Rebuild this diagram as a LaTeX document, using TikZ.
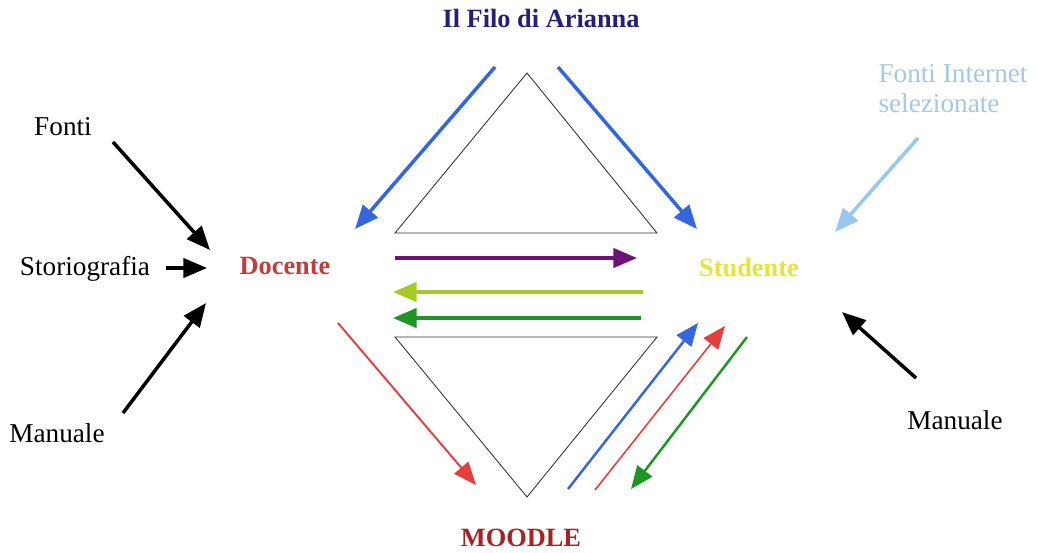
\documentclass[tikz,border=0pt]{standalone}
\usepackage{fontspec}
\setmainfont{Liberation Serif}
\usepackage{xcolor}
\usetikzlibrary{arrows.meta}
\definecolor{fnavy}{RGB}{38,30,125}
\definecolor{fdoc}{RGB}{190,62,62}
\definecolor{fstud}{RGB}{228,230,55}
\definecolor{fmood}{RGB}{165,35,35}
\definecolor{fblue}{RGB}{52,102,222}
\definecolor{fpurple}{RGB}{110,18,122}
\definecolor{flime}{RGB}{165,202,40}
\definecolor{fgreen}{RGB}{30,150,35}
\definecolor{fred}{RGB}{228,62,62}
\definecolor{fsky}{RGB}{165,200,228}
\definecolor{fskyar}{RGB}{150,200,240}
\tikzset{
  src/.style  ={inner sep=1pt, align=left, font=\fontsize{15.5}{17}\selectfont},
  hub/.style  ={inner sep=1pt, font=\fontsize{15}{17}\selectfont\bfseries},
  ttl/.style  ={inner sep=1pt, font=\fontsize{15}{17}\selectfont\bfseries},
  ar/.style   ={-{Triangle[length=13.5pt,width=11pt]}, line width=2pt},
  arthin/.style={-{Triangle[length=13pt,width=10.5pt]}, line width=1.1pt},
  tri/.style  ={draw=black!80, line width=0.5pt}
}

\begin{document}
\begin{tikzpicture}[x=0.02cm, y=-0.02cm]
\useasboundingbox (0,0) rectangle (1038,552);
% labels
\node[ttl, text=fnavy] (filo) at (541,18) {Il Filo di Arianna};
\node[ttl, text=fmood] (moodle) at (521,538) {MOODLE};
\node[hub, text=fdoc] (doc) at (285,266) {Docente};
\node[hub, text=fstud] (stud) at (749,268) {Studente};
\node[src] (fonti) at (63,127) {Fonti};
\node[src] (storio) at (85,269) {Storiografia};
\node[src] (manL) at (57,433) {Manuale};
\node[src] (manR) at (955,420) {Manuale};
\node[src, text=fsky] (fint) at (953,89) {Fonti Internet\\selezionate};
% triangles
\draw[tri] (527,73) -- (395,233) -- (657,233) -- cycle;
\draw[tri] (395,337) -- (657,337) -- (527,497) -- cycle;
% arrow ends
\coordinate (a1) at (113,142);  \coordinate (a2) at (210,250);
\coordinate (b1) at (166,268);  \coordinate (b2) at (207,268);
\coordinate (c1) at (123,413);  \coordinate (c2) at (206,303);
\coordinate (d1) at (918,138);  \coordinate (d2) at (835,232);
\coordinate (e1) at (916,378);  \coordinate (e2) at (842,312);
\coordinate (f1) at (495,67);   \coordinate (f2) at (355,229);
\coordinate (g1) at (558,67);   \coordinate (g2) at (697,229);
\coordinate (h1) at (395,258);  \coordinate (h2) at (637,258);
\coordinate (i1) at (643,292);  \coordinate (i2) at (393,292);
\coordinate (j1) at (641,318);  \coordinate (j2) at (393,318);
\coordinate (k1) at (338,323);  \coordinate (k2) at (476,485);
\coordinate (l1) at (568,489);  \coordinate (l2) at (698,323);
\coordinate (m1) at (595,490);  \coordinate (m2) at (725,326);
\coordinate (n1) at (747,337);  \coordinate (n2) at (631,489);
% arrows into Docente
\draw[ar] (a1) -- (a2);
\draw[ar] (b1) -- (b2);
\draw[ar] (c1) -- (c2);
% arrows into Studente
\draw[ar, draw=fskyar] (d1) -- (d2);
\draw[ar] (e1) -- (e2);
% Filo di Arianna
\draw[ar, draw=fblue] (f1) -- (f2);
\draw[ar, draw=fblue] (g1) -- (g2);
% Docente <-> Studente
\draw[ar, draw=fpurple] (h1) -- (h2);
\draw[ar, draw=flime] (i1) -- (i2);
\draw[ar, draw=fgreen] (j1) -- (j2);
% MOODLE
\draw[arthin, draw=fred] (k1) -- (k2);
\draw[arthin, draw=fblue, line width=1.4pt] (l1) -- (l2);
\draw[arthin, draw=fred, line width=0.9pt] (m1) -- (m2);
\draw[arthin, draw=fgreen, line width=1.4pt] (n1) -- (n2);
\end{tikzpicture}
\end{document}
